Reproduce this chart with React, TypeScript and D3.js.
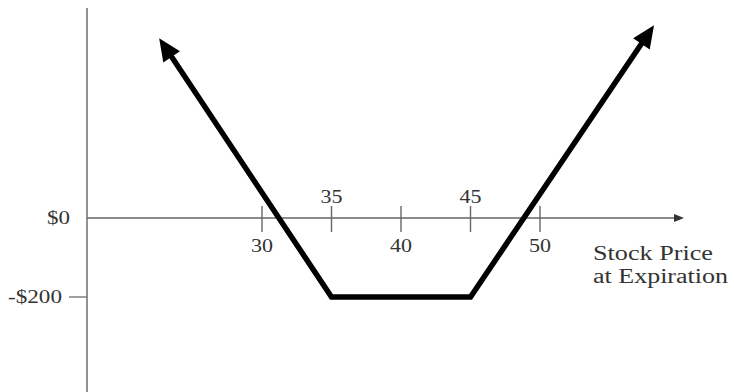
import React from 'react';
import * as d3 from 'd3';

// stock price ticks on the horizontal axis
const priceTicks = [30, 35, 40, 45, 50];
const ticksLabelledAbove = [35, 45];

// profit/loss ticks on the vertical axis
const pnlTicks = [0, -200];
const pnlLabels = ['$0', '-$200'];

// long strangle payoff (price at expiration, profit in $)
const payoffPrice = [23.1, 35, 45, 57.7];
const payoffValue = [429, -200, -200, 462];

const W = 734;
const H = 392;
const FONT = '"Liberation Serif", "Times New Roman", serif';

const App = () => {
  const x = d3.scaleLinear().domain([30, 50]).range([262, 540]);
  const y = d3.scaleLinear().domain([0, -200]).range([218, 297]);

  const axisX = 87;
  const axisEnd = 684;

  const payoff = payoffPrice.map((p, i) => [p, payoffValue[i]] as [number, number]);
  const line = d3
    .line<[number, number]>()
    .x((d) => x(d[0]))
    .y((d) => y(d[1]));

  return (
    <div style={{ position: 'fixed', left: 0, top: 0 }}>
      <svg width={W} height={H} style={{ display: 'block', background: '#fff' }}>
        <defs>
          <marker
            id="head"
            markerUnits="userSpaceOnUse"
            markerWidth="30"
            markerHeight="30"
            viewBox="-2 -10 24 20"
            refX="8"
            refY="0"
            orient="auto-start-reverse"
          >
            <path d="M0,-8L18,0L0,8Z" fill="#000" />
          </marker>
        </defs>

        {/* vertical axis */}
        <line x1={axisX} x2={axisX} y1={8} y2={H} stroke="#777" strokeWidth={1.6} />

        {/* horizontal axis with arrow */}
        <line x1={axisX} x2={axisEnd - 8} y1={y(0)} y2={y(0)} stroke="#666" strokeWidth={1.4} />
        <path
          d={`M${axisEnd},${y(0)}L${axisEnd - 10},${y(0) - 4}L${axisEnd - 10},${y(0) + 4}Z`}
          fill="#333"
        />

        {/* price ticks */}
        {priceTicks.map((t) => {
          const above = ticksLabelledAbove.includes(t);
          return (
            <g key={t}>
              <line x1={x(t)} x2={x(t)} y1={y(0) - 12} y2={y(0) + 14} stroke="#666" strokeWidth={1.4} />
              <text
                x={x(t) - 11}
                y={above ? y(0) - 15 : y(0) + 34}
                textLength={22}
                lengthAdjust="spacingAndGlyphs"
                fontFamily={FONT}
                fontSize={18}
                fill="#333"
              >
                {t}
              </text>
            </g>
          );
        })}

        {/* profit ticks */}
        {pnlTicks.map((t, i) => (
          <g key={t}>
            {t !== 0 && (
              <line x1={axisX - 18} x2={axisX} y1={y(t)} y2={y(t)} stroke="#777" strokeWidth={1.4} />
            )}
            <text
              x={t === 0 ? 47 : 8}
              y={y(t)}
              dy="0.35em"
              textLength={t === 0 ? 23 : 54}
              lengthAdjust="spacingAndGlyphs"
              fontFamily={FONT}
              fontSize={18}
              fill="#333"
            >
              {pnlLabels[i]}
            </text>
          </g>
        ))}

        {/* axis title */}
        <text
          x={593}
          y={260}
          textLength={120}
          lengthAdjust="spacingAndGlyphs"
          fontFamily={FONT}
          fontSize={20}
          fill="#333"
        >
          Stock Price
        </text>
        <text
          x={593}
          y={283}
          textLength={135}
          lengthAdjust="spacingAndGlyphs"
          fontFamily={FONT}
          fontSize={20}
          fill="#333"
        >
          at Expiration
        </text>

        {/* payoff */}
        <path
          d={line(payoff) || ''}
          fill="none"
          stroke="#000"
          strokeWidth={5.5}
          strokeLinejoin="miter"
          markerStart="url(#head)"
          markerEnd="url(#head)"
        />
      </svg>
    </div>
  );
};

export default App;
